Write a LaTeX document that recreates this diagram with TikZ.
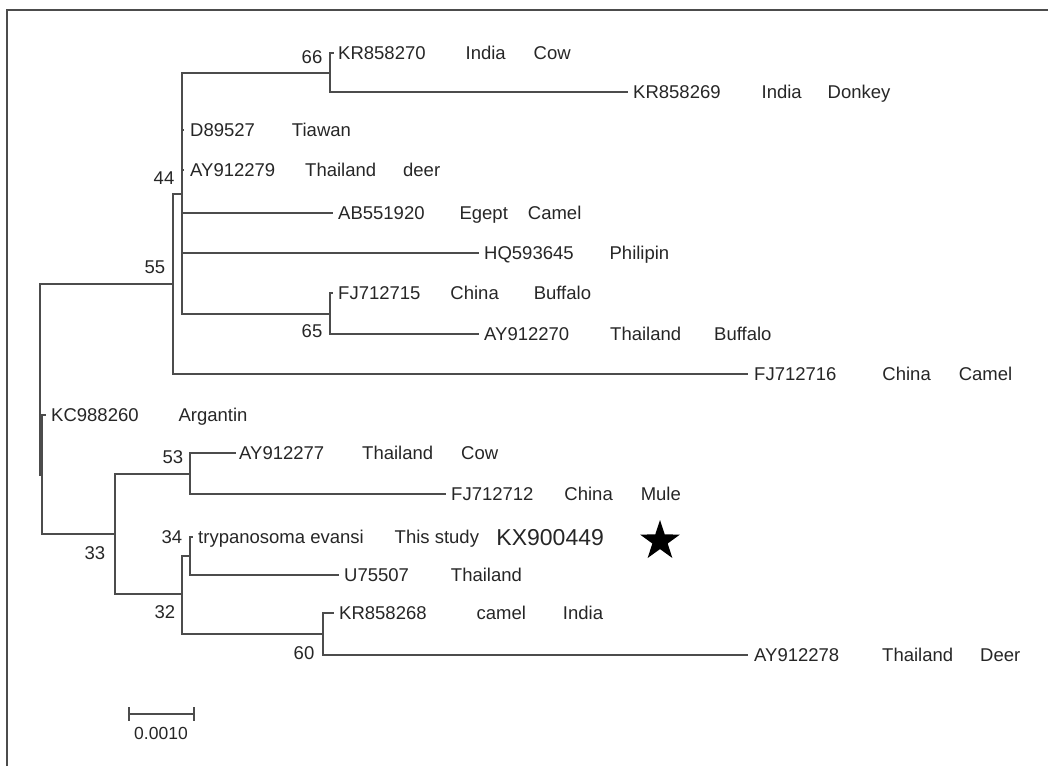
\documentclass[tikz,border=0pt]{standalone}
\usepackage{fontspec}
\setmainfont{Liberation Sans}
\usetikzlibrary{positioning,shapes.geometric}

\newcommand{\gp}[1]{\hspace*{#1pt}}

\begin{document}
\begin{tikzpicture}[x=1pt,y=-1pt,
  br/.style={draw=black!70,line width=2.1pt},
  tip/.style={font=\fontsize{18.5}{20}\selectfont,text=black!85,anchor=west,
    inner sep=0pt,text height=13pt,text depth=0pt},
  bs/.style={font=\fontsize{18.5}{20}\selectfont,text=black!85,inner sep=0pt}]
  \useasboundingbox (0,0) rectangle (1048,766);
  \draw[black!70,line width=2pt] (7,766) -- (7,10) -- (1048,10);

  % inner nodes of the tree
  \coordinate (r) at (40,379.5);
  \coordinate (n55) at (173,284);
  \coordinate (n44) at (182,194);
  \coordinate (n66) at (330,73);
  \coordinate (n65) at (330,314);
  \coordinate (nA) at (42,475);
  \coordinate (n33) at (115,534);
  \coordinate (n53) at (190,474);
  \coordinate (n32) at (182,594);
  \coordinate (n34) at (190,556);
  \coordinate (n60) at (323,634);

  % branch tips
  \coordinate (t270) at (334,53);
  \coordinate (t269) at (628,92);
  \coordinate (t527) at (184,130);
  \coordinate (t279) at (184,170);
  \coordinate (t920) at (333,213);
  \coordinate (t645) at (479,253);
  \coordinate (t715) at (333,293);
  \coordinate (t270b) at (479,334);
  \coordinate (t716) at (748,374);
  \coordinate (t260) at (46,415);
  \coordinate (t277) at (236,453);
  \coordinate (t712) at (446,494);
  \coordinate (tte) at (193,537);
  \coordinate (t507) at (339,575);
  \coordinate (t268) at (334,613);
  \coordinate (t278) at (748,655);

  % branches
  \draw[br] (r) |- (n55) (r) |- (nA);
  \draw[br] (n55) |- (n44) (n55) |- (t716);
  \draw[br] (n44) |- (n66) (n44) |- (t527) (n44) |- (t279)
    (n44) |- (t920) (n44) |- (t645) (n44) |- (n65);
  \draw[br] (n66) |- (t270) (n66) |- (t269);
  \draw[br] (n65) |- (t715) (n65) |- (t270b);
  \draw[br] (nA) |- (t260) (nA) |- (n33);
  \draw[br] (n33) |- (n53) (n33) |- (n32);
  \draw[br] (n53) |- (t277) (n53) |- (t712);
  \draw[br] (n32) |- (n34) (n32) |- (n60);
  \draw[br] (n34) |- (tte) (n34) |- (t507);
  \draw[br] (n60) |- (t268) (n60) |- (t278);

  % taxa
  \node[tip,right=4pt of t270] (l270) {KR858270\gp{40}India\gp{28}Cow};
  \node[tip,right=5pt of t269] (l269) {KR858269\gp{41}India\gp{26}Donkey};
  \node[tip,right=6pt of t527] (l527) {D89527\gp{37}Tiawan};
  \node[tip,right=6pt of t279] (l279) {AY912279\gp{30}Thailand\gp{27}deer};
  \node[tip,right=5pt of t920] (l920) {AB551920\gp{35}Egept\gp{20}Camel};
  \node[tip,right=5pt of t645] (l645) {HQ593645\gp{36}Philipin};
  \node[tip,right=5pt of t715] (l715) {FJ712715\gp{30}China\gp{35}Buffalo};
  \node[tip,right=5pt of t270b] (l270b) {AY912270\gp{41}Thailand\gp{33}Buffalo};
  \node[tip,right=6pt of t716] (l716) {FJ712716\gp{46}China\gp{28}Camel};
  \node[tip,right=5pt of t260] (l260) {KC988260\gp{40}Argantin};
  \node[tip,right=3pt of t277] (l277) {AY912277\gp{38}Thailand\gp{28}Cow};
  \node[tip,right=5pt of t712] (l712) {FJ712712\gp{31}China\gp{28}Mule};
  \node[tip,right=5pt of tte] (lte) {trypanosoma evansi\gp{31}This study\gp{17}};
  \node[tip,font=\fontsize{23}{26}\selectfont,text height=16.5pt,right=0pt of lte]
    (lkx) {KX900449};
  \node[star,star points=5,star point ratio=2.6,fill=black,inner sep=0pt,
    minimum size=42pt] (st) at (660,541) {};
  \node[tip,right=5pt of t507] (l507) {U75507\gp{42}Thailand};
  \node[tip,right=5pt of t268] (l268) {KR858268\gp{50}camel\gp{37}India};
  \node[tip,right=6pt of t278] (l278) {AY912278\gp{43}Thailand\gp{27}Deer};

  % bootstrap values
  \node[bs] (b66) at (312,57) {66};
  \node[bs] (b44) at (164,178) {44};
  \node[bs] (b55) at (155,267) {55};
  \node[bs] (b65) at (312,331) {65};
  \node[bs] (b53) at (173,457) {53};
  \node[bs] (b34) at (172,537) {34};
  \node[bs] (b33) at (95,553) {33};
  \node[bs] (b32) at (165,612) {32};
  \node[bs] (b60) at (304,653) {60};

  % scale bar
  \coordinate (sa) at (129,714);
  \coordinate (sb) at (194,714);
  \draw[br] (sa) -- (sb);
  \draw[br] ([yshift=7pt]sa) -- ([yshift=-7pt]sa);
  \draw[br] ([yshift=7pt]sb) -- ([yshift=-7pt]sb);
  \node[bs,font=\fontsize{17.5}{20}\selectfont] (sl) at (161,733) {0.0010};
\end{tikzpicture}
\end{document}
